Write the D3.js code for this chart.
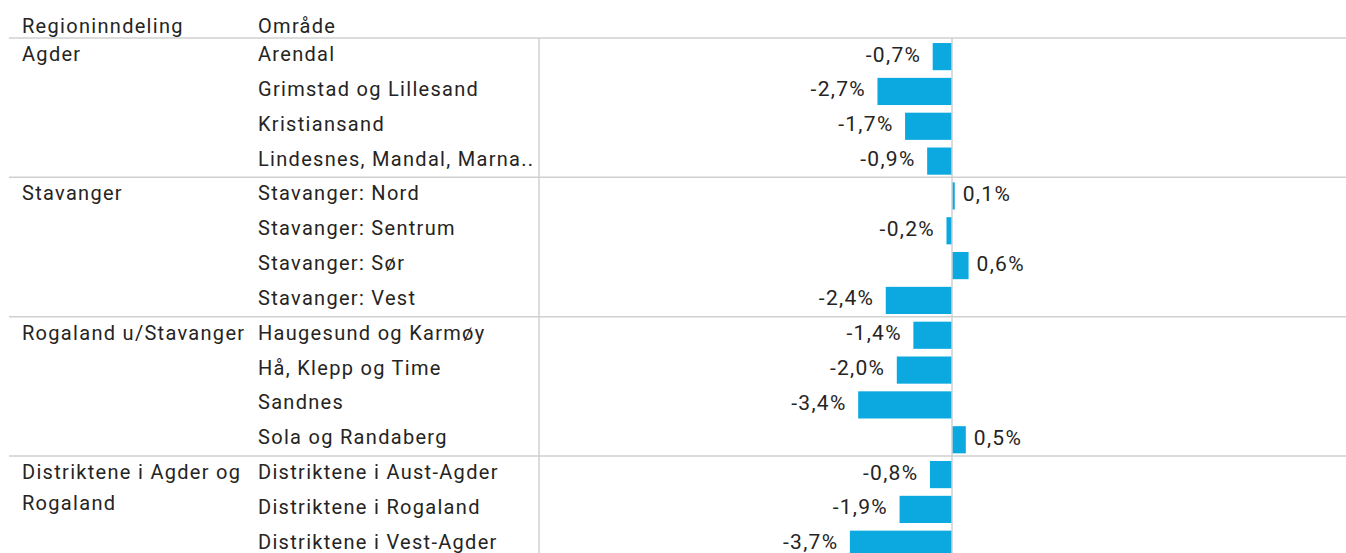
<!DOCTYPE html>
<html><head><meta charset="utf-8">
<script src="https://cdn.jsdelivr.net/npm/d3@7"></script>
<style>
html,body{margin:0;padding:0;background:#fff;}
svg{display:block;}
text{font-family:Roboto, "DejaVu Sans", sans-serif;}
</style></head>
<body>
<script>
const regions = ["Agder","Stavanger","Rogaland u/Stavanger","Distriktene i Agder og Rogaland"];
const regionLines = [["Agder"],["Stavanger"],["Rogaland u/Stavanger"],["Distriktene i Agder og","Rogaland"]];
const areas = [
  "Arendal","Grimstad og Lillesand","Kristiansand","Lindesnes, Mandal, Marna..",
  "Stavanger: Nord","Stavanger: Sentrum","Stavanger: Sør","Stavanger: Vest",
  "Haugesund og Karmøy","Hå, Klepp og Time","Sandnes","Sola og Randaberg",
  "Distriktene i Aust-Agder","Distriktene i Rogaland","Distriktene i Vest-Agder"
];
const areaRegion = [0,0,0,0,1,1,1,1,2,2,2,2,3,3,3];
const values = [-0.7,-2.7,-1.7,-0.9, 0.1,-0.2,0.6,-2.4, -1.4,-2.0,-3.4,0.5, -0.8,-1.9,-3.7];
const headers = ["Regioninndeling","Område"];

const W = 1346, H = 553;
const svg = d3.select("body").append("svg").attr("width", W).attr("height", H);

const tableTop = 38, rowH = 34.83;
const y = d3.scaleBand().domain(d3.range(areas.length))
  .range([tableTop + 1.2, tableTop + 1.2 + rowH*areas.length]).paddingInner(0.22).paddingOuter(0.11);
const x = d3.scaleLinear().domain([-4, 4]).range([952 - 4*27.6, 952 + 4*27.6]);
const fmt = v => d3.format(".1f")(v).replace(".", ",").replace("−","-") + "%";
const fs = 20, ls = 1.3, textCol = "#252423", grid = "#d0d0d0", barCol = "#0BA9E0";
const mid = i => y(i) + y.bandwidth()/2;

function label(sel) {
  return sel.attr("font-size", fs).attr("letter-spacing", ls).attr("fill", textCol);
}

// headers
label(svg.append("text")).attr("x", 22).attr("y", 33).text(headers[0]);
label(svg.append("text")).attr("x", 258).attr("y", 33).text(headers[1]);

// region separators
const firstIdx = regions.map((r,i) => areaRegion.indexOf(i));
firstIdx.forEach(i => {
  const yy = tableTop + rowH*i;
  svg.append("line").attr("x1", 9).attr("x2", W).attr("y1", yy).attr("y2", yy)
    .attr("stroke", grid).attr("stroke-width", 1.5);
});
svg.append("line").attr("x1", 539).attr("x2", 539).attr("y1", tableTop).attr("y2", H).attr("stroke", grid).attr("stroke-width", 1.5);

// region labels
regionLines.forEach((lines, r) => {
  lines.forEach((ln, k) => {
    const i = firstIdx[r];
    label(svg.append("text")).attr("x", 22).attr("y", mid(i) + 4.5 + k*31).text(ln);
  });
});
// area labels
label(svg.selectAll("text.area").data(areas).enter().append("text").attr("class","area"))
  .attr("x", 258).attr("y", (d,i) => mid(i) + 4.5).text(d => d);

// bars
svg.selectAll("rect.bar").data(values).enter().append("rect").attr("class","bar")
  .attr("x", d => x(Math.min(0,d))).attr("width", d => Math.abs(x(d)-x(0)))
  .attr("y", (d,i) => y(i)).attr("height", y.bandwidth()).attr("fill", barCol);

svg.append("line").attr("x1", x(0)).attr("x2", x(0)).attr("y1", tableTop).attr("y2", H).attr("stroke", grid).attr("stroke-width", 1.5);

// value labels
svg.selectAll("text.val").data(values).enter().append("text").attr("class","val")
  .attr("font-size", 21).attr("letter-spacing", 1.3).attr("fill", textCol)
  .attr("x", d => d < 0 ? x(d) - 11.5 : x(d) + 8)
  .attr("text-anchor", d => d < 0 ? "end" : "start")
  .attr("y", (d,i) => mid(i) + 5).text(d => fmt(d));
</script>
</body></html>
